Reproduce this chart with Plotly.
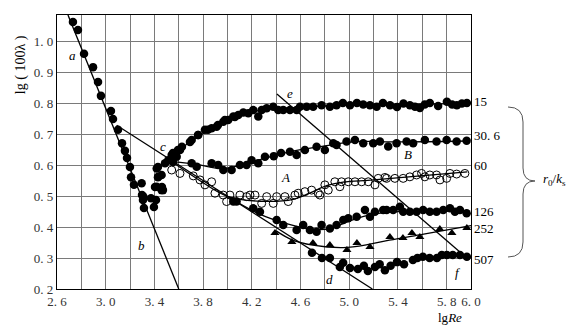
import plotly.graph_objects as go

# ---------------- data ----------------
# reference lines
lam_x = [2.69, 3.60]            # line a-b (laminar)
lam_y = [1.087, 0.200]
bla_x = [3.09, 5.19]            # line c-d (smooth pipe)
bla_y = [0.730, 0.200]
ef_x = [4.406, 5.909]           # line e-f
ef_y = [0.831, 0.320]

# smooth curves through series
c15_x = [3.50, 3.70, 3.90, 4.10, 4.30, 4.50, 4.80, 5.20, 5.97]
c15_y = [0.615, 0.678, 0.725, 0.760, 0.781, 0.786, 0.792, 0.797, 0.800]
c30_x = [3.55, 3.75, 3.97, 4.20, 4.50, 4.80, 5.05, 5.40, 5.97]
c30_y = [0.612, 0.603, 0.590, 0.612, 0.643, 0.663, 0.677, 0.676, 0.679]
c60_x = [3.55, 3.75, 4.00, 4.27, 4.54, 4.68, 4.82, 4.95, 5.20, 5.97]
c60_y = [0.610, 0.557, 0.500, 0.484, 0.490, 0.511, 0.535, 0.546, 0.553, 0.579]
c126_x = [4.00, 4.25, 4.50, 4.70, 4.85, 5.00, 5.20, 5.50, 5.97]
c126_y = [0.500, 0.445, 0.410, 0.393, 0.396, 0.420, 0.442, 0.452, 0.450]
c252_x = [4.40, 4.53, 4.70, 4.95, 5.17, 5.33, 5.60, 6.00]
c252_y = [0.388, 0.359, 0.342, 0.334, 0.345, 0.358, 0.377, 0.405]

# transition / laminar points (filled)
tr_x = [2.731, 2.772, 2.822, 2.896, 2.937, 2.961, 3.043, 3.060, 3.101, 3.134, 3.158,
        3.175, 3.199, 3.208, 3.232, 3.298, 3.306, 3.314, 3.372, 3.396, 3.413, 3.405,
        3.462, 3.470, 3.429, 3.429, 3.295, 3.419, 3.432, 3.459, 3.419, 3.459, 3.309]
tr_y = [1.064, 1.038, 0.961, 0.918, 0.870, 0.825, 0.776, 0.750, 0.715, 0.672, 0.647,
        0.624, 0.595, 0.562, 0.537, 0.504, 0.488, 0.462, 0.494, 0.465, 0.488, 0.530,
        0.530, 0.520, 0.595, 0.562, 0.542, 0.590, 0.563, 0.569, 0.531, 0.520, 0.499]

# r0/ks = 15
s15_x = [3.487, 3.514, 3.542, 3.583, 3.610, 3.552, 3.593, 3.626, 3.692, 3.706, 3.758,
         3.760, 3.815, 3.840, 3.870, 3.911, 3.922, 3.966, 3.979, 4.006, 4.048, 4.061,
         4.089, 4.130, 4.171, 4.212, 4.253, 4.281, 4.322, 4.376, 4.417, 4.458, 4.513,
         4.568, 4.595, 4.650, 4.704, 4.773, 4.841, 4.896, 4.948, 5.006, 5.063, 5.115,
         5.170, 5.225, 5.277, 5.335, 5.392, 5.445, 5.498, 5.540, 5.580, 5.620, 5.662,
         5.730, 5.802, 5.845, 5.884, 5.925, 5.966]
s15_y = [0.607, 0.617, 0.634, 0.628, 0.650, 0.640, 0.650, 0.660, 0.676, 0.682, 0.698,
         0.698, 0.715, 0.715, 0.720, 0.725, 0.731, 0.741, 0.747, 0.747, 0.758, 0.757,
         0.763, 0.771, 0.769, 0.779, 0.758, 0.779, 0.785, 0.790, 0.779, 0.779, 0.779,
         0.779, 0.790, 0.790, 0.790, 0.795, 0.790, 0.795, 0.802, 0.795, 0.802, 0.797,
         0.795, 0.790, 0.802, 0.795, 0.789, 0.800, 0.795, 0.790, 0.786, 0.797, 0.802,
         0.792, 0.806, 0.797, 0.795, 0.800, 0.802]

# r0/ks = 30.6
s30_x = [3.552, 3.706, 3.747, 3.870, 3.924, 3.966, 4.034, 4.102, 4.157, 4.198, 4.253,
         4.308, 4.380, 4.440, 4.513, 4.568, 4.636, 4.732, 4.800, 4.869, 4.896, 4.978,
         5.047, 5.115, 5.197, 5.252, 5.320, 5.389, 5.471, 5.525, 5.621, 5.717, 5.800,
         5.882, 5.964]
s30_y = [0.611, 0.607, 0.596, 0.607, 0.601, 0.585, 0.585, 0.601, 0.601, 0.617, 0.607,
         0.628, 0.630, 0.640, 0.644, 0.634, 0.650, 0.660, 0.650, 0.672, 0.666, 0.677,
         0.682, 0.672, 0.672, 0.677, 0.661, 0.672, 0.677, 0.672, 0.682, 0.677, 0.682,
         0.677, 0.680]

# r0/ks = 60 (open circles)
s60_x = [3.542, 3.610, 3.719, 3.774, 3.815, 3.870, 3.897, 3.965, 3.993, 4.020, 4.102,
         4.157, 4.185, 4.226, 4.281, 4.322, 4.376, 4.404, 4.472, 4.499, 4.554, 4.581,
         4.636, 4.691, 4.745, 4.759, 4.800, 4.828, 4.882, 4.923, 4.937, 4.992, 5.047,
         5.102, 5.156, 5.211, 5.238, 5.293, 5.307, 5.375, 5.443, 5.498, 5.553, 5.594,
         5.621, 5.662, 5.717, 5.745, 5.800, 5.827, 5.882, 5.950]
s60_y = [0.585, 0.574, 0.566, 0.553, 0.537, 0.547, 0.510, 0.504, 0.483, 0.504, 0.504,
         0.499, 0.504, 0.504, 0.477, 0.499, 0.477, 0.499, 0.499, 0.483, 0.504, 0.510,
         0.515, 0.520, 0.510, 0.504, 0.537, 0.520, 0.547, 0.531, 0.547, 0.547, 0.547,
         0.547, 0.547, 0.537, 0.558, 0.561, 0.558, 0.558, 0.558, 0.563, 0.569, 0.574,
         0.563, 0.569, 0.569, 0.553, 0.558, 0.574, 0.572, 0.574]

# r0/ks = 126
s126_x = [4.048, 4.075, 4.212, 4.267, 4.404, 4.458, 4.568, 4.622, 4.677, 4.732, 4.773,
          4.841, 4.896, 4.951, 4.992, 5.061, 5.129, 5.170, 5.211, 5.279, 5.307, 5.361,
          5.416, 5.443, 5.498, 5.553, 5.607, 5.662, 5.717, 5.772, 5.827, 5.868, 5.909,
          5.964]
s126_y = [0.483, 0.483, 0.461, 0.450, 0.423, 0.407, 0.391, 0.407, 0.391, 0.385, 0.407,
          0.396, 0.407, 0.423, 0.429, 0.434, 0.456, 0.434, 0.450, 0.456, 0.456, 0.456,
          0.466, 0.450, 0.450, 0.450, 0.456, 0.450, 0.450, 0.456, 0.461, 0.450, 0.456,
          0.445]

# r0/ks = 252 (triangles)
s252_x = [4.390, 4.529, 4.702, 4.841, 4.981, 5.063, 5.170, 5.334, 5.441, 5.515, 5.580,
          5.744, 5.843, 5.966]
s252_y = [0.381, 0.352, 0.349, 0.342, 0.326, 0.349, 0.336, 0.368, 0.365, 0.381, 0.368,
          0.394, 0.381, 0.397]

# r0/ks = 507
s507_x = [4.694, 4.776, 4.841, 4.923, 4.950, 5.006, 5.071, 5.120, 5.153, 5.211, 5.250,
          5.293, 5.340, 5.392, 5.450, 5.523, 5.560, 5.605, 5.660, 5.720, 5.760, 5.802,
          5.850, 5.909, 5.966]
s507_y = [0.317, 0.300, 0.300, 0.271, 0.285, 0.268, 0.265, 0.275, 0.258, 0.271, 0.280,
          0.261, 0.275, 0.287, 0.280, 0.294, 0.300, 0.304, 0.300, 0.300, 0.310, 0.310,
          0.310, 0.310, 0.304]

x_ticks = [2.6, 3.0, 3.4, 3.8, 4.2, 4.6, 5.0, 5.4, 5.8, 6.0]
x_text = ["2. 6", "3. 0", "3. 4", "3. 8", "4. 2", "4. 6", "5. 0", "5. 4", "5. 8", "6. 0"]
x_grid = [2.6, 2.8, 3.0, 3.2, 3.4, 3.6, 3.8, 4.0, 4.2, 4.4, 4.6, 4.8, 5.0, 5.2, 5.4,
          5.6, 5.8, 6.0]
y_ticks = [0.2, 0.3, 0.4, 0.5, 0.6, 0.7, 0.8, 0.9, 1.0]
y_text = ["0. 2", "0. 3", "0. 4", "0. 5", "0. 6", "0. 7", "0. 8", "0. 9", "1. 0"]

series_labels = ["15", "30. 6", "60", "126", "252", "507"]
series_label_y = [0.808, 0.698, 0.601, 0.452, 0.397, 0.294]

letters = ["a", "b", "c", "d", "e", "f", "A", "B"]
letters_x = [2.731, 3.298, 3.470, 4.840, 4.513, 5.890, 4.480, 5.480]
letters_y = [0.955, 0.342, 0.660, 0.232, 0.834, 0.255, 0.560, 0.634]

# ---------------- figure ----------------
SERIF = "Liberation Serif, Times New Roman, serif"
GRID = "#7a7a7a"
fig = go.Figure()
LW = 1.3
for xs, ys, shape in [(lam_x, lam_y, "linear"), (bla_x, bla_y, "linear"), (ef_x, ef_y, "linear"),
                      (c15_x, c15_y, "spline"), (c30_x, c30_y, "spline"), (c60_x, c60_y, "spline"),
                      (c126_x, c126_y, "spline"), (c252_x, c252_y, "spline")]:
    fig.add_trace(go.Scatter(x=xs, y=ys, mode="lines",
                             line=dict(color="black", width=LW, shape=shape), showlegend=False,
                             hoverinfo="skip"))

filled = dict(symbol="circle", size=8.5, color="black")
for xs, ys in [(tr_x, tr_y), (s15_x, s15_y), (s30_x, s30_y), (s126_x, s126_y), (s507_x, s507_y)]:
    fig.add_trace(go.Scatter(x=xs, y=ys, mode="markers", marker=filled, showlegend=False))
fig.add_trace(go.Scatter(x=s60_x, y=s60_y, mode="markers", showlegend=False,
                         marker=dict(symbol="circle-open", size=8, color="black",
                                     line=dict(width=1, color="black"))))
fig.add_trace(go.Scatter(x=s252_x, y=s252_y, mode="markers", showlegend=False,
                         marker=dict(symbol="triangle-up", size=8, color="black")))

ann = []
for t, yv in zip(series_labels, series_label_y):
    ann.append(dict(text=t, x=1, xref="paper", y=yv, yref="y", xanchor="left", xshift=1,
                    showarrow=False, font=dict(family=SERIF, size=13, color="black")))
for t, xv, yv in zip(letters, letters_x, letters_y):
    ann.append(dict(text="<i>%s</i>" % t, x=xv, y=yv, xref="x", yref="y", showarrow=False,
                    font=dict(family=SERIF, size=13, color="black")))
ann.append(dict(text="lg ( 100λ )", x=-0.085, y=0.82, xref="paper", yref="paper",
                xanchor="center", yanchor="middle",
                textangle=-90, showarrow=False,
                font=dict(family=SERIF, size=14, color="black")))
ann.append(dict(text="lg<i>Re</i>", x=0.949, y=-0.105, xref="paper", yref="paper",
                showarrow=False, xanchor="center", yanchor="middle",
                font=dict(family=SERIF, size=13, color="black")))
ann.append(dict(text="<i>r</i><sub>0</sub>/<i>k</i><sub>s</sub>", x=1.169, y=0.553,
                xref="paper", yref="y", xanchor="left", yanchor="middle", showarrow=False,
                font=dict(family=SERIF, size=13, color="black")))


def px2paper(px, py):
    return (px - 57) / 414.0, (289 - py) / 274.0


pts = [(508, 107), (523, 107), (523, 122), (523, 168), (523, 181), (535, 181), (523, 181),
       (523, 194), (523, 242), (523, 257), (508, 257)]
P = [px2paper(a, b) for a, b in pts]
path = ("M %f,%f Q %f,%f %f,%f L %f,%f Q %f,%f %f,%f Q %f,%f %f,%f L %f,%f Q %f,%f %f,%f" %
        (P[0] + P[1] + P[2] + P[3] + P[4] + P[5] + P[6] + P[7] + P[8] + P[9] + P[10]))

fig.update_layout(
    width=583, height=328,
    margin=dict(l=57, r=112, t=15, b=39),
    paper_bgcolor="white", plot_bgcolor="white",
    annotations=ann,
    shapes=[dict(type="path", path=path, xref="paper", yref="paper",
                 line=dict(color="#555555", width=1))],
    font=dict(family=SERIF, size=13, color="black"),
)
fig.update_xaxes(range=[2.6, 6.0], tickvals=x_ticks, ticktext=x_text, showgrid=True,
                 gridcolor=GRID, gridwidth=1, showline=True, linecolor="black",
                 linewidth=1.2, mirror=True, ticks="", zeroline=False,
                 minor=dict(tickvals=x_grid, showgrid=True, gridcolor=GRID, gridwidth=1,
                            ticks=""),
                 tickfont=dict(family=SERIF, size=13, color="#333"))
fig.update_yaxes(range=[0.2, 1.0867], tickvals=y_ticks, ticktext=y_text, showgrid=True,
                 gridcolor=GRID, gridwidth=1, showline=True, linecolor="black",
                 linewidth=1.2, mirror=True, ticks="", zeroline=False,
                 tickfont=dict(family=SERIF, size=13, color="#333"))

fig.write_html("out.html")
